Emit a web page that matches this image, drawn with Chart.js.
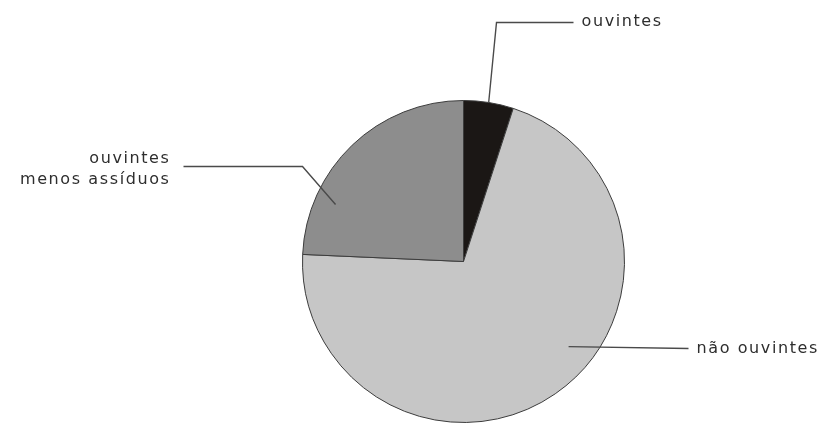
<!DOCTYPE html>
<html>
<head>
<meta charset="utf-8">
<script src="https://cdn.jsdelivr.net/npm/chart.js@4"></script>
<style>
  html, body { margin: 0; padding: 0; background: #fff; }
  #wrap { width: 824px; height: 423px; }
</style>
</head>
<body>
<div id="wrap"><canvas id="pieChart"></canvas></div>
<script>
const labels = ["ouvintes", "não ouvintes", "ouvintes menos assíduos"];
const values = [5, 70.7, 24.3];
const colors = ["#1b1715", "#c6c6c6", "#8d8d8d"];

// leader lines: anchor angle (deg from top, clockwise), anchor radius fraction, points relative to center, text
const callouts = [
  { angle: 9, r: 1.0, path: [[33, -239], [110, -239]], text: ["ouvintes"], tx: 118, ty: -240, align: "left" },
  { angle: 294, r: 0.87, path: [[-161, -95], [-280, -95]], text: ["ouvintes", "menos assíduos"], tx: -293, ty: -103, align: "right" },
  { angle: 129, r: 0.84, path: [[225, 87]], text: ["não ouvintes"], tx: 233, ty: 87, align: "left" },
];

const calloutPlugin = {
  id: "callouts",
  afterDatasetsDraw(chart) {
    const arc = chart.getDatasetMeta(0).data[0];
    const cx = arc.x, cy = arc.y, R = arc.outerRadius;
    const ctx = chart.ctx;
    ctx.save();
    ctx.strokeStyle = "#4a4a4a";
    ctx.lineWidth = 1.4;
    ctx.fillStyle = "#2e2e2e";
    ctx.font = "16px 'DejaVu Sans', sans-serif";
    ctx.letterSpacing = "1.6px";
    ctx.textBaseline = "middle";
    callouts.forEach((c) => {
      const a = (c.angle - 90) * Math.PI / 180;
      ctx.beginPath();
      ctx.moveTo(cx + Math.cos(a) * R * c.r, cy + Math.sin(a) * R * c.r);
      c.path.forEach((p) => ctx.lineTo(cx + p[0], cy + p[1]));
      ctx.stroke();
      ctx.textAlign = c.align;
      c.text.forEach((t, i) => ctx.fillText(t, cx + c.tx, cy + c.ty + i * 21));
    });
    ctx.restore();
  },
};

new Chart(document.getElementById("pieChart"), {
  type: "pie",
  data: {
    labels: labels,
    datasets: [
      {
        data: values,
        backgroundColor: colors,
        borderColor: "#3c3c3c",
        borderWidth: 1,
      },
    ],
  },
  options: {
    responsive: true,
    maintainAspectRatio: false,
    animation: false,
    layout: { padding: { top: 100, bottom: -4, left: 300, right: 197 } },
    plugins: {
      legend: { display: false },
      tooltip: { enabled: false },
    },
  },
  plugins: [calloutPlugin],
});
</script>
</body>
</html>
